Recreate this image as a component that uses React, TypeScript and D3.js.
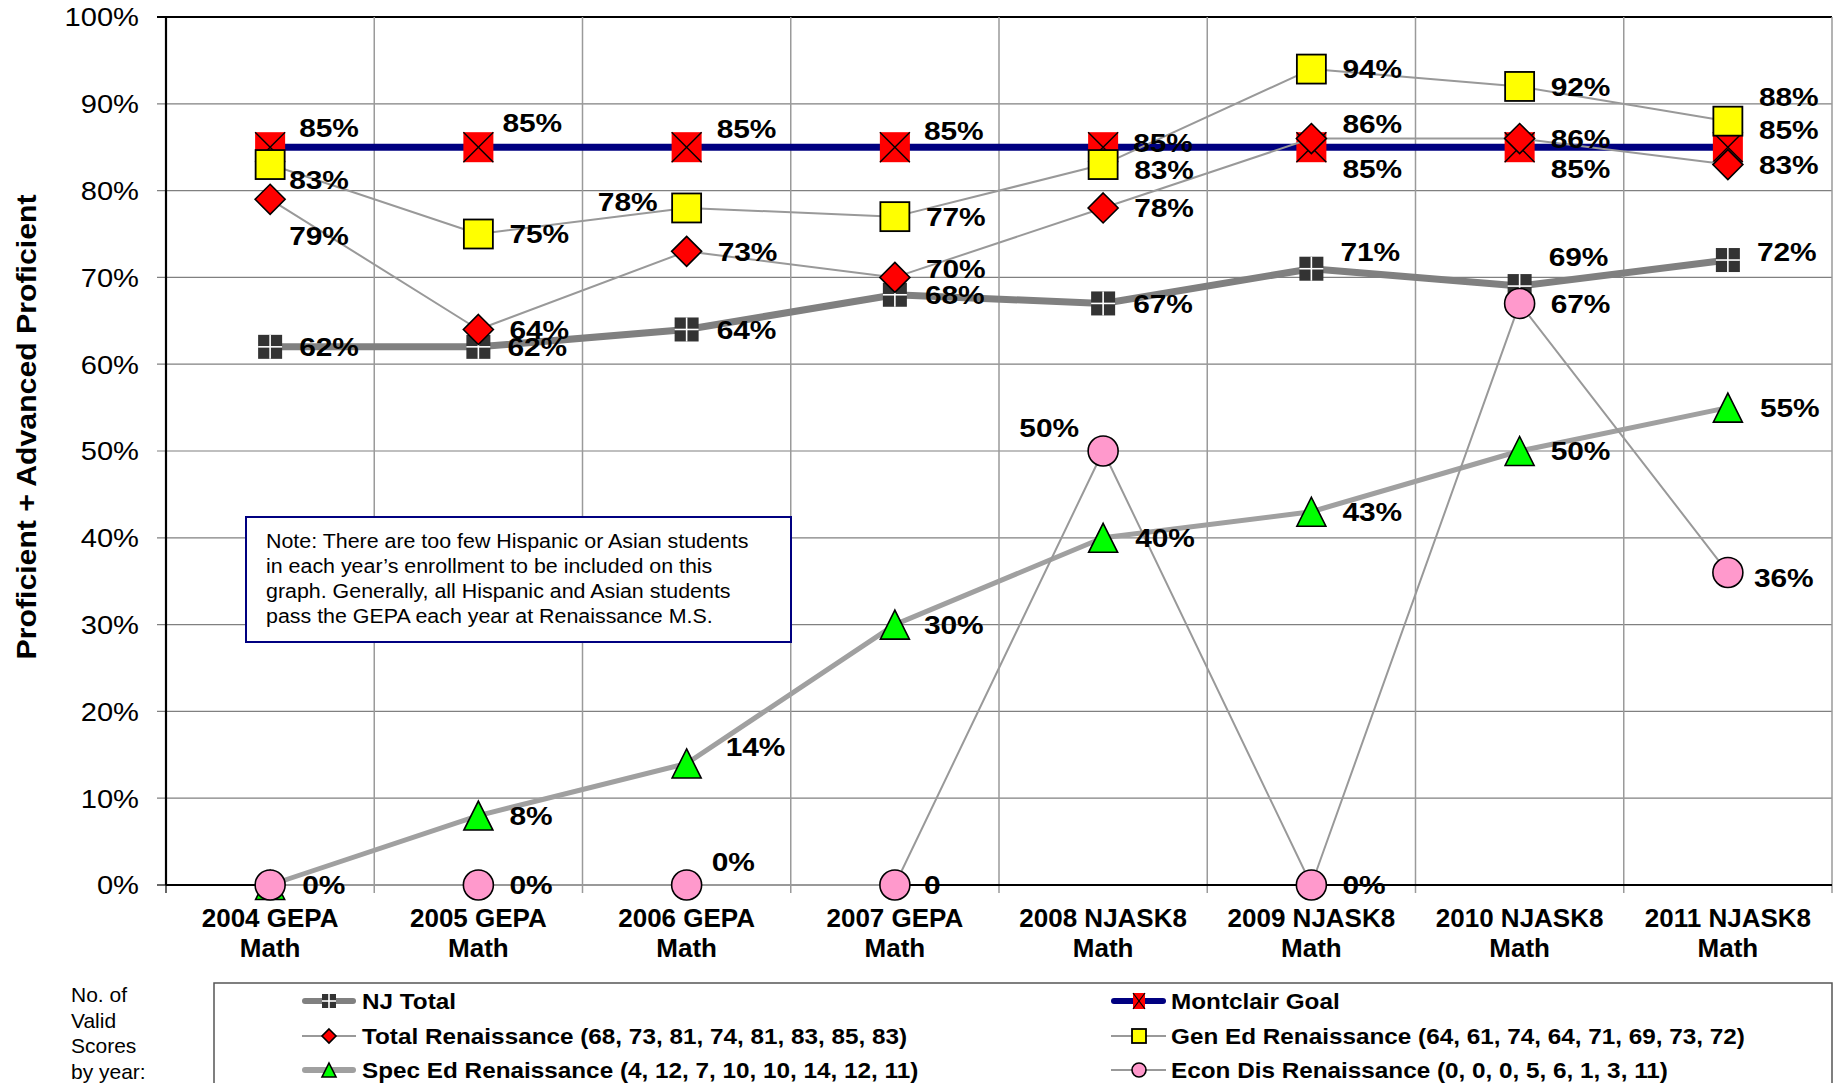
import React from "react";
import * as d3 from "d3";

// ---------- data ----------
const categories: string[][] = [
  ["2004 GEPA", "Math"],
  ["2005 GEPA", "Math"],
  ["2006 GEPA", "Math"],
  ["2007 GEPA", "Math"],
  ["2008 NJASK8", "Math"],
  ["2009 NJASK8", "Math"],
  ["2010 NJASK8", "Math"],
  ["2011 NJASK8", "Math"],
];
const yTicks = [0, 10, 20, 30, 40, 50, 60, 70, 80, 90, 100];

const njTotal = [62, 62, 64, 68, 67, 71, 69, 72];
const montclairGoal = [85, 85, 85, 85, 85, 85, 85, 85];
const totalRen = [79, 64, 73, 70, 78, 86, 86, 83];
const genEdRen = [83, 75, 78, 77, 83, 94, 92, 88];
const specEdRen = [0, 8, 14, 30, 40, 43, 50, 55];
const econDisRen = [0, 0, 0, 0, 50, 0, 67, 36];
const econDisText = ["0%", "0%", "0%", "0", "50%", "0%", "67%", "36%"];

const totalCounts = [68, 73, 81, 74, 81, 83, 85, 83];
const genEdCounts = [64, 61, 74, 64, 71, 69, 73, 72];
const specEdCounts = [4, 12, 7, 10, 10, 14, 12, 11];
const econDisCounts = [0, 0, 0, 5, 6, 1, 3, 11];

const noteLines = [
  "Note: There are too few Hispanic or Asian students",
  "in each year\u2019s enrollment to be included on this",
  "graph. Generally, all Hispanic and Asian students",
  "pass the GEPA each year at Renaissance M.S.",
];

// label placements (dx, dy, anchor) relative to marker centre
type LP = [number, number, string] | null;
const njLP: LP[] = [[29, 0, "start"], [29, 0, "start"], [30, 0, "start"], [30, 0, "start"], [30, 0, "start"], [29, -17, "start"], [29, -29, "start"], [29, -8, "start"]];
const goalLP: LP[] = [[29, -20, "start"], [24, -25, "start"], [30, -19, "start"], [29, -17, "start"], [30, -5, "start"], [31, 21, "start"], [31, 21, "start"], [31, -18, "start"]];
const totalLP: LP[] = [[19, 36, "start"], [31, 0, "start"], [31, 0, "start"], [31, -9, "start"], [31, 0, "start"], [31, -15, "start"], [31, 0, "start"], [31, 0, "start"]];
const genLP: LP[] = [[19, 15, "start"], [31, 0, "start"], [-29, -6, "end"], [31, 0, "start"], [31, 5, "start"], [31, 0, "start"], [31, 0, "start"], [31, -24, "start"]];
const specLP: LP[] = [null, [31, 0, "start"], [39, -17, "start"], [29, 0, "start"], [32, 0, "start"], [31, 0, "start"], [31, 0, "start"], [32, 0, "start"]];
const econLP: LP[] = [[32, 0, "start"], [31, 0, "start"], [25, -23, "start"], [29, 0, "start"], [-24, -23, "end"], [31, 0, "start"], [31, 0, "start"], [26, 5, "start"]];

// ---------- layout ----------
const W = 1834;
const H = 1083;
const PL = 166, PR = 1832, PT = 17, PB = 885;
const FONT = "'Liberation Sans', Arial, Helvetica, sans-serif";

const x = d3.scaleBand<number>().domain(d3.range(categories.length)).range([PL, PR]).padding(0);
const cx = (i: number) => (x(i) as number) + x.bandwidth() / 2;
const y = d3.scaleLinear().domain([0, 100]).range([PB, PT]);

type MarkerKind = "nj" | "goal" | "diamond" | "square" | "triangle" | "circle";

function Marker({ kind, px, py, s }: { kind: MarkerKind; px: number; py: number; s: number }) {
  const h = s / 2;
  if (kind === "nj") {
    return (
      <g>
        <rect x={px - h} y={py - h} width={s} height={s} fill="#333333" />
        <line x1={px - h} x2={px + h} y1={py} y2={py} stroke="#ffffff" strokeWidth={1.6} />
        <line x1={px} x2={px} y1={py - h} y2={py + h} stroke="#ffffff" strokeWidth={1.6} />
      </g>
    );
  }
  if (kind === "goal") {
    return (
      <g>
        <rect x={px - h} y={py - h} width={s} height={s} fill="#ff0000" />
        <line x1={px - h} x2={px + h} y1={py - h} y2={py + h} stroke="#000" strokeWidth={1.4} />
        <line x1={px - h} x2={px + h} y1={py + h} y2={py - h} stroke="#000" strokeWidth={1.4} />
      </g>
    );
  }
  if (kind === "diamond") {
    return <path d={`M${px},${py - h}L${px + h},${py}L${px},${py + h}L${px - h},${py}Z`} fill="#ff0000" stroke="#000" strokeWidth={1.6} />;
  }
  if (kind === "square") {
    return <rect x={px - h} y={py - h} width={s} height={s} fill="#ffff00" stroke="#000" strokeWidth={1.8} />;
  }
  if (kind === "triangle") {
    return <path d={`M${px},${py - h}L${px + h},${py + h}L${px - h},${py + h}Z`} fill="#00ff00" stroke="#000" strokeWidth={1.6} />;
  }
  return <circle cx={px} cy={py} r={h} fill="#ff99cc" stroke="#000" strokeWidth={1.6} />;
}

function T(props: { x: number; y: number; size: number; bold?: boolean; anchor?: string; sx?: number; rot?: number; children: React.ReactNode }) {
  const { x: tx, y: ty, size, bold, anchor = "start", sx = 1, rot = 0, children } = props;
  return (
    <text
      transform={`translate(${tx},${ty})${rot ? ` rotate(${rot})` : ""} scale(${sx},1)`}
      fontFamily={FONT}
      fontSize={size}
      fontWeight={bold ? "bold" : "normal"}
      textAnchor={anchor as any}
      fill="#000"
    >
      {children}
    </text>
  );
}

interface Series {
  name: string;
  values: number[];
  texts: string[];
  color: string;
  width: number;
  marker: MarkerKind;
  size: number;
  lp: LP[];
}

const pct = (v: number) => `${v}%`;
const series: Series[] = [
  { name: "NJ Total", values: njTotal, texts: njTotal.map(pct), color: "#808080", width: 7, marker: "nj", size: 24, lp: njLP },
  { name: "Montclair Goal", values: montclairGoal, texts: montclairGoal.map(pct), color: "#000080", width: 7, marker: "goal", size: 30, lp: goalLP },
  { name: `Total Renaissance (${totalCounts.join(", ")})`, values: totalRen, texts: totalRen.map(pct), color: "#999999", width: 2, marker: "diamond", size: 30, lp: totalLP },
  { name: `Gen Ed Renaissance (${genEdCounts.join(", ")})`, values: genEdRen, texts: genEdRen.map(pct), color: "#999999", width: 2, marker: "square", size: 29, lp: genLP },
  { name: `Spec Ed Renaissance (${specEdCounts.join(", ")})`, values: specEdRen, texts: specEdRen.map(pct), color: "#a0a0a0", width: 5, marker: "triangle", size: 29, lp: specLP },
  { name: `Econ Dis Renaissance (${econDisCounts.join(", ")})`, values: econDisRen, texts: econDisText, color: "#999999", width: 2, marker: "circle", size: 30, lp: econLP },
];

// legend: [seriesIndex, column, row]
const legendSlots: [number, number, number][] = [
  [0, 0, 0], [1, 1, 0], [2, 0, 1], [3, 1, 1], [4, 0, 2], [5, 1, 2],
];

export default function App() {
  const line = d3
    .line<number>()
    .x((_, i) => cx(i))
    .y((v) => y(v));

  const legendColX = [[302, 356, 329, 362], [1111, 1166, 1139, 1171]];
  const legendRowY = [1001, 1036, 1070];

  return (
    <svg width={W} height={H} style={{ position: "absolute", left: 0, top: 0, background: "#fff" }}>
      <rect x={0} y={0} width={W} height={H} fill="#ffffff" />
      {/* horizontal gridlines */}
      {yTicks.filter((t) => t > 0 && t < 100).map((t) => (
        <line key={"h" + t} x1={157} x2={PR} y1={y(t)} y2={y(t)} stroke="#808080" strokeWidth={1.2} />
      ))}
      <line x1={157} x2={PR} y1={y(100)} y2={y(100)} stroke="#000" strokeWidth={2} />
      <line x1={157} x2={166} y1={y(0)} y2={y(0)} stroke="#000" strokeWidth={1.2} />
      {/* vertical gridlines */}
      {d3.range(1, categories.length).map((i) => (
        <line key={"v" + i} x1={x(i) as number} x2={x(i) as number} y1={PT} y2={PB + 8} stroke="#9a9a9a" strokeWidth={1.5} />
      ))}
      <line x1={PR} x2={PR} y1={PT} y2={PB + 8} stroke="#9a9a9a" strokeWidth={1.5} />
      <line x1={PL} x2={PL} y1={PB} y2={PB + 8} stroke="#000" strokeWidth={1.2} />
      {/* axes */}
      <line x1={PL} x2={PL} y1={PT - 1} y2={PB} stroke="#000" strokeWidth={2.2} />
      <line x1={PL} x2={PR} y1={PB} y2={PB} stroke="#000" strokeWidth={2.2} />

      {/* y tick labels */}
      {yTicks.map((t) => (
        <T key={"yt" + t} x={139} y={y(t) + 9.3} size={26} anchor="end" sx={1.12}>
          {`${t}%`}
        </T>
      ))}
      {/* y title */}
      <T x={36} y={427} size={28} bold anchor="middle" rot={-90} sx={1.08}>
        Proficient + Advanced Proficient
      </T>
      {/* x labels */}
      {categories.map((c, i) => (
        <g key={"xl" + i}>
          <T x={cx(i)} y={927} size={26} bold anchor="middle">{c[0]}</T>
          <T x={cx(i)} y={957} size={26} bold anchor="middle">{c[1]}</T>
        </g>
      ))}

      {/* note box */}
      <rect x={246} y={517} width={545} height={125} fill="#ffffff" stroke="#000080" strokeWidth={2} />
      {noteLines.map((l, i) => (
        <T key={"n" + i} x={266} y={548 + i * 25} size={20} sx={1.07}>{l}</T>
      ))}

      {/* series */}
      {series.map((s, si) => (
        <g key={"s" + si}>
          <path d={line(s.values) as string} fill="none" stroke={s.color} strokeWidth={s.width} strokeLinejoin="round" />
          {s.values.map((v, i) => (
            <Marker key={i} kind={s.marker} px={cx(i)} py={y(v)} s={s.size} />
          ))}
        </g>
      ))}

      {/* data labels */}
      {series.map((s, si) =>
        s.values.map((v, i) => {
          const p = s.lp[i];
          if (!p) return null;
          return (
            <T key={`l${si}-${i}`} x={cx(i) + p[0]} y={y(v) + p[1] + 9.3} size={26} bold anchor={p[2]} sx={1.15}>
              {s.texts[i]}
            </T>
          );
        })
      )}

      {/* legend */}
      <rect x={214} y={983} width={PR - 214} height={140} fill="none" stroke="#555" strokeWidth={1.5} />
      {legendSlots.map(([si, col, row]) => {
        const s = series[si];
        const [lx1, lx2, mx, tx] = legendColX[col];
        const ly = legendRowY[row];
        const thick = s.width >= 5;
        return (
          <g key={"lg" + si}>
            <line x1={lx1 + (thick ? 3 : 0)} x2={lx2 - (thick ? 3 : 0)} y1={ly} y2={ly} stroke={s.color} strokeWidth={thick ? 6 : 2} strokeLinecap={thick ? "round" : "butt"} />
            {s.marker === "goal" ? (
              <g>
                <rect x={mx - 6} y={ly - 8} width={12} height={16} fill="#ff0000" />
                <line x1={mx - 6} x2={mx + 6} y1={ly - 8} y2={ly + 8} stroke="#000" strokeWidth={1.2} />
                <line x1={mx - 6} x2={mx + 6} y1={ly + 8} y2={ly - 8} stroke="#000" strokeWidth={1.2} />
              </g>
            ) : (
              <Marker kind={s.marker} px={mx} py={ly} s={14} />
            )}
            <T x={tx} y={ly + 7.7} size={21.5} bold sx={1.13}>{s.name}</T>
          </g>
        );
      })}
      {["No. of", "Valid", "Scores", "by year:"].map((t, i) => (
        <T key={"nv" + i} x={71} y={1002 + i * 25.7} size={20} sx={1.05}>{t}</T>
      ))}
    </svg>
  );
}
